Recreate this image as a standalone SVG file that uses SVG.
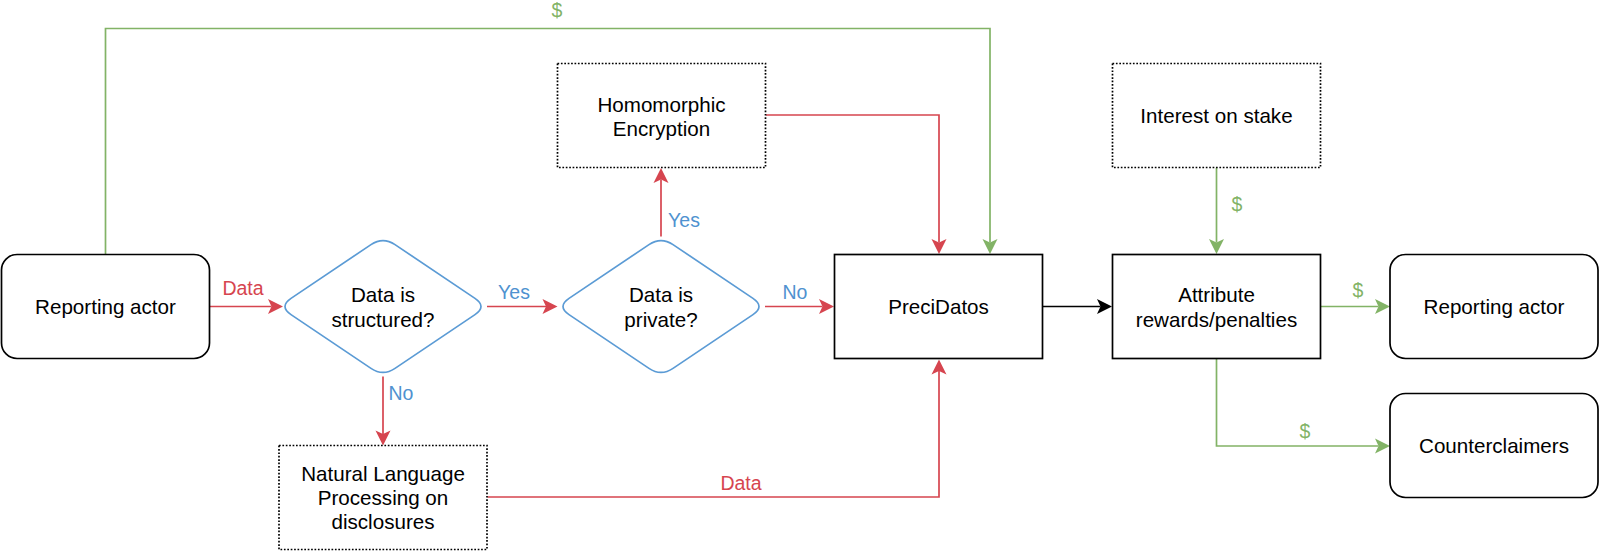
<svg xmlns="http://www.w3.org/2000/svg" width="1600" height="551" viewBox="0 0 1600 551">
<defs>
<style>
.box{fill:#fff;stroke:#000;stroke-width:1.7}
.dot{fill:#fff;stroke:#000;stroke-width:1.7;stroke-dasharray:1.7 1.7}
.dia{fill:#fff;stroke:#5b9bd5;stroke-width:1.7}
.t{font-family:"Liberation Sans",Arial,Helvetica,sans-serif;font-size:20.6px;fill:#000;text-anchor:middle}
.lb{font-family:"Liberation Sans",Arial,Helvetica,sans-serif;font-size:19.5px;fill:#4f92d0;text-anchor:middle}
.lr{font-family:"Liberation Sans",Arial,Helvetica,sans-serif;font-size:19.5px;fill:#d6454f;text-anchor:middle}
.lg{font-family:"Liberation Sans",Arial,Helvetica,sans-serif;font-size:19.5px;fill:#82b366;text-anchor:middle}
.r{stroke:#d6454f;marker-end:url(#mr)}
.g{stroke:#82b366;marker-end:url(#mg)}
.k{stroke:#000;marker-end:url(#mk)}
</style>
<marker id="mr" markerUnits="userSpaceOnUse" markerWidth="20" markerHeight="20" viewBox="-5 -10 20 20" refX="0" refY="0" orient="auto"><path d="M0,0 L-3.5,-7.5 L11.5,0 L-3.5,7.5 Z" fill="#d6454f"/></marker>
<marker id="mg" markerUnits="userSpaceOnUse" markerWidth="20" markerHeight="20" viewBox="-5 -10 20 20" refX="0" refY="0" orient="auto"><path d="M0,0 L-3.5,-7.5 L11.5,0 L-3.5,7.5 Z" fill="#82b366"/></marker>
<marker id="mk" markerUnits="userSpaceOnUse" markerWidth="20" markerHeight="20" viewBox="-5 -10 20 20" refX="0" refY="0" orient="auto"><path d="M0,0 L-3.5,-7.5 L11.5,0 L-3.5,7.5 Z" fill="#000"/></marker>
<path id="diamond" d="M-91.98,-8.09 L-12.02,-61.91 Q0,-70 12.02,-61.91 L91.98,-8.09 Q104,0 91.98,8.09 L12.02,61.91 Q0,70 -12.02,61.91 L-91.98,8.09 Q-104,0 -91.98,-8.09 Z"/>
</defs>
<rect x="0" y="0" width="1600" height="551" fill="#fff"/>

<g id="connectors" fill="none" stroke-width="1.7">
<path class="g" d="M105.5,254 V28.5 H990 V242.5"/>
<path class="r" d="M210,306.5 H271.5"/>
<path class="r" d="M487,306.5 H546"/>
<path class="r" d="M661,236.5 V179.5"/>
<path class="r" d="M765,306.5 H822.5"/>
<path class="r" d="M766,115 H939 V242.5"/>
<path class="r" d="M383,376.5 V434"/>
<path class="r" d="M487.5,497 H939 V371"/>
<path class="k" d="M1042.5,306.5 H1100.5"/>
<path class="g" d="M1216.5,167.5 V242.5"/>
<path class="g" d="M1320.5,306.5 H1378.5"/>
<path class="g" d="M1216.5,358.5 V446 H1378.5"/>
</g>

<g id="connector-labels">
<text class="lg" x="557" y="17">$</text>
<text class="lr" x="243" y="295">Data</text>
<text class="lb" x="514" y="299">Yes</text>
<text class="lb" x="684" y="227">Yes</text>
<text class="lb" x="795" y="299">No</text>
<text class="lb" x="401" y="400">No</text>
<text class="lr" x="741" y="490">Data</text>
<text class="lg" x="1237" y="211">$</text>
<text class="lg" x="1358" y="297">$</text>
<text class="lg" x="1305" y="438">$</text>
</g>

<g id="reporting-actor-1">
<rect class="box" x="1.5" y="254.5" width="208" height="104" rx="15.6"/>
<text class="t" x="105.5" y="314">Reporting actor</text>
</g>

<g id="data-structured">
<use href="#diamond" class="dia" transform="translate(383,306.5)"/>
<text class="t" x="383" y="302">Data is</text>
<text class="t" x="383" y="326.5">structured?</text>
</g>

<g id="data-private">
<use href="#diamond" class="dia" transform="translate(661,306.5)"/>
<text class="t" x="661" y="302">Data is</text>
<text class="t" x="661" y="326.5">private?</text>
</g>

<g id="homomorphic-encryption">
<rect class="dot" x="557.5" y="63.5" width="208" height="104"/>
<text class="t" x="661.5" y="111.5">Homomorphic</text>
<text class="t" x="661.5" y="136">Encryption</text>
</g>

<g id="nlp">
<rect class="dot" x="279" y="445.5" width="208" height="104"/>
<text class="t" x="383" y="481">Natural Language</text>
<text class="t" x="383" y="505">Processing on</text>
<text class="t" x="383" y="529">disclosures</text>
</g>

<g id="precidatos">
<rect class="box" x="834.5" y="254.5" width="208" height="104"/>
<text class="t" x="938.5" y="314">PreciDatos</text>
</g>

<g id="interest-on-stake">
<rect class="dot" x="1112.5" y="63.5" width="208" height="104"/>
<text class="t" x="1216.5" y="123">Interest on stake</text>
</g>

<g id="attribute">
<rect class="box" x="1112.5" y="254.5" width="208" height="104"/>
<text class="t" x="1216.5" y="302">Attribute</text>
<text class="t" x="1216.5" y="326.5">rewards/penalties</text>
</g>

<g id="reporting-actor-2">
<rect class="box" x="1390" y="254.5" width="208" height="104" rx="15.6"/>
<text class="t" x="1494" y="314">Reporting actor</text>
</g>

<g id="counterclaimers">
<rect class="box" x="1390" y="393.5" width="208" height="104" rx="15.6"/>
<text class="t" x="1494" y="453">Counterclaimers</text>
</g>
</svg>
